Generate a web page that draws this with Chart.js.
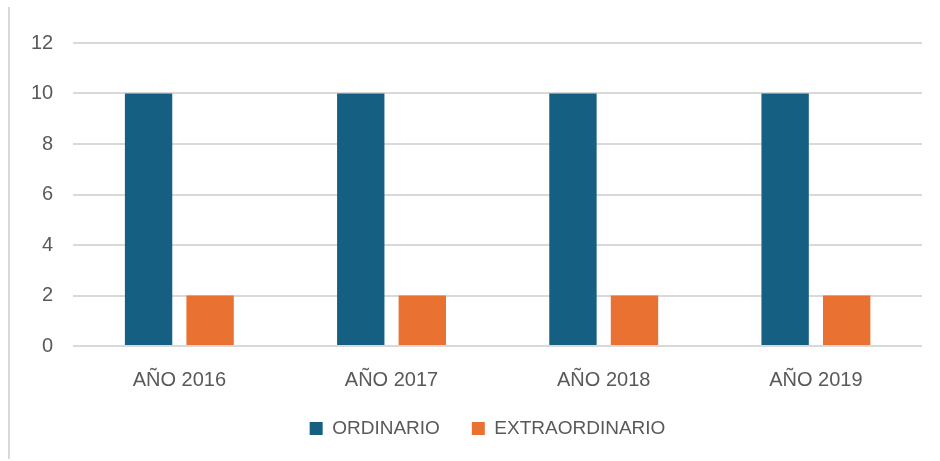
<!DOCTYPE html>
<html>
<head>
<meta charset="utf-8">
<script src="https://cdn.jsdelivr.net/npm/chart.js@4"></script>
<style>
  html, body { margin: 0; padding: 0; background: #fff; }
  #wrap { position: relative; width: 940px; height: 461px; }
  #edge { position: absolute; left: 8px; top: 7px; width: 2px; height: 452px; background: #d9d9d9; }
</style>
</head>
<body>
<div id="wrap">
  <div id="edge"></div>
  <canvas id="chart" width="940" height="461"></canvas>
</div>
<script>
const years = ['AÑO 2016', 'AÑO 2017', 'AÑO 2018', 'AÑO 2019']
const ordinario = [10, 10, 10, 10]
const extraordinario = [2, 2, 2, 2]

const textColor = '#595959'
Chart.defaults.font.family = "'Liberation Sans', Arial, sans-serif"
Chart.defaults.font.size = 19
Chart.defaults.color = textColor

// nudge legend a bit to the right, like the original
const legendShift = {
  id: 'legendShift',
  afterLayout: chart => {
    chart.legend.left += 21
    chart.legend.right += 21
  },
}

const ctx = document.getElementById('chart').getContext('2d')

const chart = new Chart(ctx, {
  type: 'bar',
  data: {
    labels: years,
    datasets: [
      {
        label: 'ORDINARIO',
        data: ordinario,
        backgroundColor: '#156082',
        categoryPercentage: 0.58,
        barPercentage: 0.77,
      },
      {
        label: 'EXTRAORDINARIO',
        data: extraordinario,
        backgroundColor: '#E97132',
        categoryPercentage: 0.58,
        barPercentage: 0.77,
      },
    ],
  },
  plugins: [legendShift],
  options: {
    responsive: false,
    animation: false,
    layout: {
      padding: { left: 11, right: 18, top: 43, bottom: 13 },
    },
    plugins: {
      tooltip: { enabled: false },
      legend: {
        position: 'bottom',
        labels: {
          boxWidth: 13,
          boxHeight: 13,
          padding: 32,
          color: textColor,
        },
      },
    },
    scales: {
      x: {
        grid: { display: false },
        border: { display: false },
        ticks: { padding: 14, font: { size: 20 } },
        afterFit: scale => {
          scale.height -= 19
        },
      },
      y: {
        min: 0,
        max: 12,
        ticks: { stepSize: 2, padding: 20, font: { size: 20 } },
        grid: { color: '#d9d9d9', lineWidth: 2, drawTicks: false },
        border: { display: false },
      },
    },
  },
})
</script>
</body>
</html>
